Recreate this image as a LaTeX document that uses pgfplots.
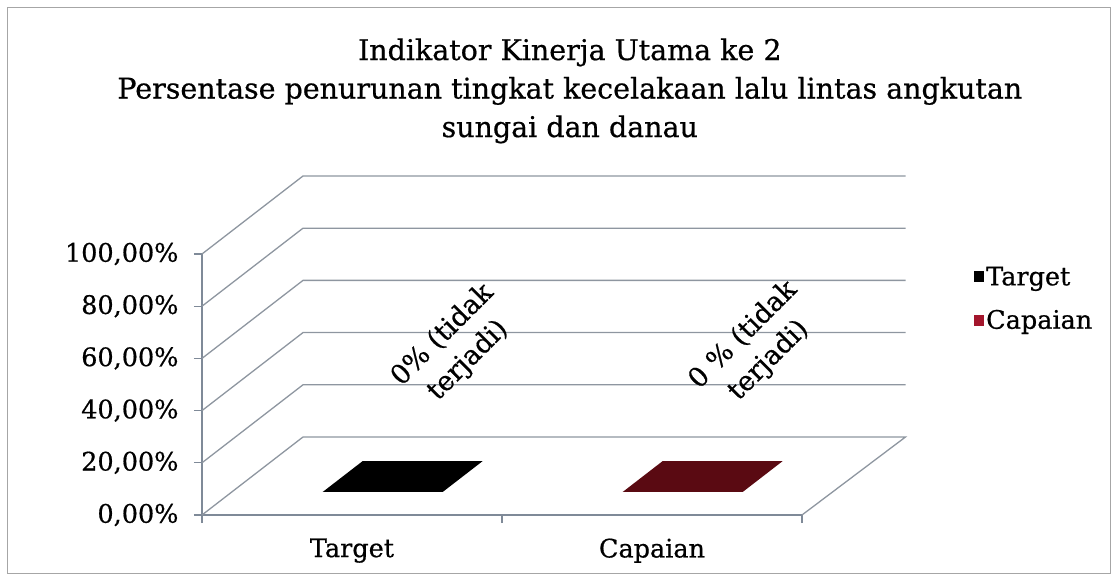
\documentclass[border=0pt]{standalone}
\usepackage{pgfplots}
\pgfplotsset{compat=1.18}
\usepackage{fontspec}
\setmainfont{DejaVu Serif}[FakeBold=0.6]
\definecolor{gridgray}{HTML}{8E96A0}
\definecolor{axisgray}{HTML}{7F8A98}
\definecolor{barred}{HTML}{5A0A12}
\definecolor{legred}{HTML}{A3162C}
\begin{document}
\begin{tikzpicture}
\useasboundingbox (-202bp,-65bp) rectangle (916bp,515bp);
\draw[color=black!35, line width=1bp] (-194bp,-58bp) rectangle (908bp,507bp);
\begin{axis}[
  scale only axis, width=600bp, height=261bp,
  xmin=0, xmax=2, ymin=0, ymax=100, clip=false,
  axis x line*=bottom, axis y line*=left,
  axis line style={draw=axisgray, line width=1.4bp},
  tick align=outside,
  xtick={0.5,1.5}, xticklabels={Target,Capaian},
  minor xtick={0,1,2},
  major x tick style={draw=none},
  minor x tick style={draw=axisgray, line width=1.2bp},
  minor tick length=8bp, major tick length=8bp,
  ytick={0,20,40,60,80,100},
  yticklabels={{0,00\%},{20,00\%},{40,00\%},{60,00\%},{80,00\%},{100,00\%}},
  y tick style={draw=axisgray, line width=1.2bp},
  tick label style={font=\fontsize{25.5bp}{30bp}\selectfont},
  yticklabel style={xshift=-12bp},
  xticklabel style={yshift=-12bp},
  legend style={at={(1.2867,0.8295)}, anchor=west, draw=none, fill=none,
    inner sep=0pt, font=\fontsize{25.5bp}{30bp}\selectfont, row sep=19bp,
    cells={anchor=west}, /tikz/every even column/.append style={column sep=0pt}},
  legend cell align=left,
  legend image code/.code={\fill[#1] (0bp,-5.5bp) rectangle (10bp,5.5bp);},
  gridline/.style={draw=gridgray, line width=1.3bp, no marks, forget plot},
]
% back wall grid lines (depth offset: +0.3367 in x, +29.89 in y)
\addplot[gridline] coordinates {(2,0) (2.345,29.89) (0.3367,29.89) (0,0)};
\addplot[gridline] coordinates {(0,20) (0.3367,49.89) (2.345,49.89)};
\addplot[gridline] coordinates {(0,40) (0.3367,69.89) (2.345,69.89)};
\addplot[gridline] coordinates {(0,60) (0.3367,89.89) (2.345,89.89)};
\addplot[gridline] coordinates {(0,80) (0.3367,109.89) (2.345,109.89)};
\addplot[gridline] coordinates {(0,100) (0.3367,129.89) (2.345,129.89)};
% bars: value 0 -> flat top faces lying on the floor
\addplot[fill=black, draw=none, forget plot] coordinates {(0.4023,8.82) (0.8023,8.82) (0.9353,20.63) (0.5353,20.63)} -- cycle;
\addplot[fill=barred, draw=none, forget plot] coordinates {(1.4023,8.82) (1.8023,8.82) (1.9353,20.63) (1.5353,20.63)} -- cycle;
\addlegendimage{fill=black, draw=none}
\addlegendentry{Target}
\addlegendimage{fill=legred, draw=none}
\addlegendentry{Capaian}
\node[rotate=45, align=center, font=\fontsize{27bp}{36bp}\selectfont] at (axis cs:0.845,64) {0\% (tidak\\terjadi)};
\node[rotate=45, align=center, font=\fontsize{27bp}{36bp}\selectfont] at (axis cs:1.847,64) {0 \% (tidak\\terjadi)};
\node[align=center, font=\fontsize{28.5bp}{38.5bp}\selectfont] at (rel axis cs:0.613,1.625) {Indikator Kinerja Utama ke 2\\Persentase penurunan tingkat kecelakaan lalu lintas angkutan\\sungai dan danau};
\end{axis}
\end{tikzpicture}
\end{document}
